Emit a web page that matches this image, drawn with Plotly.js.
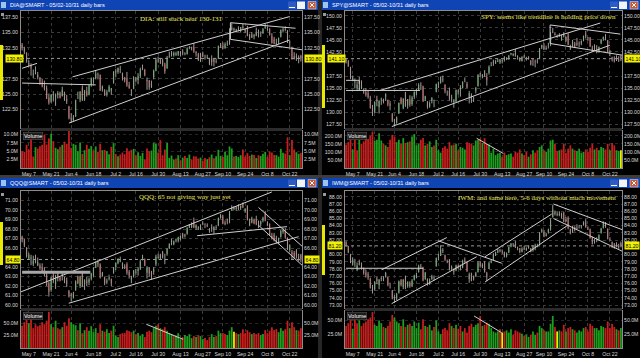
<!DOCTYPE html>
<html><head><meta charset="utf-8">
<script src="https://cdn.plot.ly/plotly-3.0.1.min.js"></script>
<style>html,body{margin:0;padding:0;background:#000;}#chart{width:640px;height:358px;}</style>
</head><body><div id="chart"></div>
<script>
// ---------- categories ----------
const dates = [
'May 2','May 3','May 4','May 7','May 8','May 9','May 10','May 11','May 14','May 15','May 16','May 17','May 18','May 21','May 22','May 23','May 24','May 25','May 29','May 30','May 31',
'Jun 1','Jun 4','Jun 5','Jun 6','Jun 7','Jun 8','Jun 11','Jun 12','Jun 13','Jun 14','Jun 15','Jun 18','Jun 19','Jun 20','Jun 21','Jun 22','Jun 25','Jun 26','Jun 27','Jun 28','Jun 29',
'Jul 2','Jul 3','Jul 5','Jul 6','Jul 9','Jul 10','Jul 11','Jul 12','Jul 13','Jul 16','Jul 17','Jul 18','Jul 19','Jul 20','Jul 23','Jul 24','Jul 25','Jul 26','Jul 27','Jul 30','Jul 31',
'Aug 1','Aug 2','Aug 3','Aug 6','Aug 7','Aug 8','Aug 9','Aug 10','Aug 13','Aug 14','Aug 15','Aug 16','Aug 17','Aug 20','Aug 21','Aug 22','Aug 23','Aug 24','Aug 27','Aug 28','Aug 29','Aug 30','Aug 31',
'Sep 4','Sep 5','Sep 6','Sep 7','Sep 10','Sep 11','Sep 12','Sep 13','Sep 14','Sep 17','Sep 18','Sep 19','Sep 20','Sep 21','Sep 24','Sep 25','Sep 26','Sep 27','Sep 28',
'Oct 1','Oct 2','Oct 3','Oct 4','Oct 5','Oct 8','Oct 9','Oct 10','Oct 11','Oct 12','Oct 15','Oct 16','Oct 17','Oct 18','Oct 19','Oct 22','Oct 23','Oct 24','Oct 25','Oct 26','Oct 31'];
const dateTickLabels = ['May 7','May 21','Jun 4','Jun 18','Jul 2','Jul 16','Jul 30','Aug 13','Aug 27','Sep 10','Sep 24','Oct 8','Oct 22'];

// ---------- DIA ----------
const diaOpen = [
133.0,132.5,131.7,129.8,129.6,128.2,128.6,127.8,127.6,127.0,
126.4,126.0,124.4,123.8,125.0,124.6,124.9,125.2,124.7,125.3,
124.2,123.0,121.2,120.8,121.4,124.5,124.1,126.0,124.1,125.5,
125.0,126.6,127.2,127.6,128.2,128.1,125.8,125.6,125.0,125.4,
125.6,126.8,128.8,128.6,129.0,128.4,127.5,127.6,126.5,125.7,
125.9,127.5,127.3,127.9,129.2,128.9,127.3,127.2,126.2,127.8,
128.8,130.6,130.5,130.5,129.8,129.2,131.0,131.3,131.3,131.4,
131.4,131.9,131.9,131.6,131.5,132.5,132.6,132.7,131.8,131.5,
130.4,131.6,131.0,130.9,130.7,130.2,130.7,130.3,130.8,132.7,
132.9,132.4,133.3,133.3,135.5,135.6,135.2,135.4,135.3,136.0,
135.3,135.7,134.6,134.2,134.6,134.5,135.1,134.8,134.9,135.8,
135.7,135.6,134.5,133.9,133.1,133.4,134.3,135.3,135.5,135.3,
133.4,132.6,131.2,131.2,130.8,131.2];
const diaHigh = [
133.3,132.7,131.8,130.5,130.0,129.0,129.5,128.6,127.8,127.5,
127.2,126.4,125.1,125.0,125.5,125.1,125.5,125.4,126.2,125.4,
124.9,123.1,121.9,121.6,124.1,125.4,125.5,126.4,125.7,126.2,
126.6,127.7,127.7,128.9,128.5,128.2,126.4,125.8,125.7,126.5,
126.0,128.7,129.1,129.3,129.6,128.5,127.8,128.6,127.0,125.8,
127.9,127.8,128.4,129.3,129.8,129.1,127.7,127.3,127.2,129.0,
130.9,131.1,130.8,130.8,130.1,131.2,131.9,132.0,131.9,131.9,
132.0,132.0,132.3,131.8,132.6,132.8,132.7,133.3,132.0,131.7,
131.7,131.9,131.4,131.4,130.9,131.3,130.8,130.8,132.9,133.3,
133.4,133.4,133.7,135.7,136.5,135.8,135.6,136.0,135.9,136.4,
135.6,136.1,134.8,135.1,134.8,135.8,135.5,135.2,135.7,136.4,
136.0,135.7,134.9,134.3,134.0,134.2,135.5,135.8,136.0,135.4,
133.7,132.7,131.8,131.6,131.3,131.4];
const diaLow = [
132.1,131.5,130.1,129.5,128.0,127.6,128.2,127.4,126.5,126.1,
125.6,124.2,123.3,123.6,123.8,123.1,124.3,124.3,124.6,123.9,
123.4,120.9,120.3,120.6,121.3,124.2,123.7,123.9,123.9,124.6,
124.8,126.2,126.7,127.4,127.4,125.5,125.4,124.7,124.6,125.3,
124.9,126.7,127.8,128.3,128.4,127.2,126.9,126.2,125.9,124.7,
125.8,126.9,126.6,127.6,128.9,127.9,125.7,125.7,126.0,127.4,
128.7,130.1,129.9,129.5,128.3,129.1,130.9,131.1,131.1,131.2,
131.2,131.1,131.3,131.3,131.4,132.3,132.1,131.7,131.1,130.4,
130.2,131.0,130.6,130.8,129.7,129.6,129.5,130.0,130.7,132.5,
132.3,132.4,132.8,133.0,135.3,135.1,135.0,135.2,135.0,135.6,
134.9,134.4,133.8,134.1,133.9,134.4,134.2,134.3,134.8,135.6,
135.3,134.5,133.2,133.1,133.0,133.1,134.2,135.0,135.2,133.3,
132.6,130.6,130.6,130.4,130.0,130.3];
const diaClose = [
132.6,131.9,130.3,130.0,129.2,128.3,128.5,128.1,126.9,126.3,
125.9,124.3,123.6,124.9,124.8,125.0,125.2,124.4,125.7,124.1,
123.8,121.1,120.9,121.2,124.0,124.5,125.4,124.0,125.6,124.9,
126.4,127.6,127.3,128.3,128.1,125.6,126.3,124.9,125.3,126.2,
125.9,128.7,128.6,129.3,128.9,127.6,127.3,126.4,125.9,125.6,
127.7,127.2,127.9,129.0,129.3,128.1,127.1,126.1,126.7,128.8,
130.6,130.5,130.0,129.9,128.7,130.9,131.1,131.6,131.7,131.6,
132.0,131.6,131.7,131.5,132.4,132.6,132.5,131.9,131.6,130.5,
131.5,131.1,130.9,131.0,129.9,130.8,130.2,130.4,132.8,133.0,
132.4,133.1,133.2,135.3,135.8,135.4,135.5,135.7,135.9,135.7,
135.5,134.5,134.0,134.7,134.3,135.0,134.7,134.8,135.6,136.0,
135.7,134.6,133.3,133.2,133.3,134.1,135.4,135.5,135.4,133.4,
133.5,130.9,130.7,130.9,131.0,130.8];
const diaVolume = [ // millions
5.0,4.8,6.9,5.5,9.3,3.4,6.2,5.8,6.5,6.9,9.9,7.0,8.8,10.2,8.0,6.0,5.6,6.3,6.9,7.8,7.2,11.0,
6.0,7.2,6.9,5.0,7.6,4.2,5.3,6.9,5.7,6.5,5.2,6.4,4.8,7.2,5.3,5.4,5.0,4.1,6.3,7.4,
4.2,3.5,4.0,4.6,4.1,5.9,5.0,5.4,5.7,3.8,4.7,3.6,4.5,2.6,5.8,5.0,5.2,7.5,7.3,
4.6,8.3,3.8,5.5,7.4,3.0,3.7,2.5,2.8,3.8,
2.3,3.1,3.6,3.0,4.0,2.5,3.5,3.4,2.8,3.1,2.2,3.0,2.6,3.2,4.0,
2.9,3.5,5.4,3.6,3.3,4.8,3.8,6.4,5.8,3.4,3.6,3.3,3.8,5.5,3.4,4.4,3.6,4.0,3.9,
3.0,3.8,3.6,4.2,4.8,3.3,4.9,4.6,3.9,3.8,3.4,5.7,4.5,4.3,9.1,3.8,8.3,5.5,4.7,4.2,4.5];
const diaPriceTicks = [122.5,125,127.5,130,132.5,135,137.5];
const diaVolTicks = [2.5,5,7.5,10];
const diaVolTickText = ['2.5M','5.0M','7.5M','10.0M'];
const diaTrendlines = [[0,126.8,33,126.5],[0,129.2,6.7,130.0],[22.6,127.8,120,137.6],[21,120.3,120,133.8],[93.4,136.6,122.6,135.7],[93.4,133.9,125.5,132.2],[93.4,136.6,93.4,133.9]];
const diaVolTrendlines = [];

// ---------- SPY ----------
const spyOpen = [
141.0,140.6,139.2,136.5,136.4,135.0,136.4,135.0,134.6,134.1,
134.0,133.0,130.9,130.1,132.7,131.0,132.7,132.7,133.2,132.3,
131.8,129.6,128.4,127.8,129.8,132.9,130.8,134.1,131.4,132.6,
131.7,133.2,133.7,134.6,135.6,135.3,132.6,132.2,131.2,132.3,
132.3,134.3,136.2,136.1,136.9,135.7,134.1,134.4,132.9,132.1,
132.2,134.4,134.6,135.0,136.6,135.9,133.2,133.6,133.0,134.5,
135.4,137.8,137.4,138.6,137.3,138.2,139.6,140.2,140.1,140.5,
140.3,140.7,141.5,141.0,141.0,142.0,141.8,142.3,141.5,141.2,
140.6,141.6,141.2,141.1,140.7,140.6,140.6,140.5,141.1,143.4,
143.8,143.1,144.0,144.1,146.6,146.3,145.7,145.8,145.2,146.4,
144.8,146.1,143.8,143.6,144.3,144.3,144.3,144.3,144.9,146.3,
145.3,145.4,143.4,143.8,143.0,142.7,144.3,145.2,145.3,144.9,
142.4,141.3,141.2,141.4,141.0,141.7];
const spyHigh = [
141.2,140.8,139.4,137.6,137.0,136.4,137.3,136.6,134.9,135.0,
134.6,133.4,131.5,132.2,133.4,132.4,133.0,132.8,133.9,132.6,
132.3,129.8,128.6,129.1,132.0,133.1,132.9,134.2,132.7,133.5,
133.4,134.3,134.9,136.0,136.2,135.5,133.4,132.3,132.2,133.1,
132.6,135.9,136.3,137.4,137.6,135.8,134.5,135.1,133.6,132.7,
134.7,134.7,135.6,136.4,137.2,136.3,134.4,133.9,133.2,135.2,
137.9,138.2,137.9,138.7,138.1,139.7,140.4,140.9,140.8,141.1,
141.0,140.9,141.6,141.4,141.8,142.3,142.2,143.1,141.8,141.4,
141.6,141.9,141.5,141.6,140.8,141.2,140.9,141.0,143.3,144.0,
144.3,143.8,144.4,146.6,147.5,146.6,146.1,146.4,146.1,146.6,
145.7,146.4,144.0,145.0,144.6,145.4,144.7,144.9,145.9,146.9,
145.6,145.6,143.8,144.1,143.9,143.6,145.2,145.7,146.2,145.0,
142.9,141.5,141.6,141.8,141.6,141.8];
const spyLow = [
140.1,139.4,136.9,136.4,134.9,134.6,135.9,134.8,133.8,133.2,
132.8,130.7,129.2,129.8,131.2,129.7,131.5,131.8,132.3,131.2,
130.4,127.9,127.1,127.6,129.6,131.6,130.6,131.1,130.7,131.1,
131.3,132.7,133.5,134.6,134.6,132.1,132.3,130.7,130.9,131.8,
131.0,134.1,135.0,135.9,136.2,133.9,133.4,132.4,132.0,130.9,
132.1,133.6,133.2,134.9,136.2,135.0,131.8,131.9,132.1,133.9,
135.3,137.3,137.0,137.3,135.5,137.8,139.5,139.6,140.0,140.4,
140.0,140.1,140.5,140.8,140.9,141.8,141.6,141.5,140.9,140.5,
140.5,141.2,140.7,140.9,139.7,139.6,139.3,140.1,141.0,143.1,
142.9,142.9,143.2,143.7,146.4,145.9,145.4,145.6,144.8,145.5,
144.6,143.9,142.9,143.5,143.3,143.7,143.5,143.9,144.7,145.3,
144.8,143.5,142.6,142.8,142.2,142.3,144.1,144.8,144.9,142.3,
141.6,140.5,140.3,140.6,140.4,140.6];
const spyClose = [
140.6,139.6,137.1,137.2,136.6,135.7,136.0,135.7,134.1,133.6,
133.1,130.9,129.7,132.1,132.2,132.4,132.6,132.1,133.7,131.6,
131.3,128.2,128.1,128.9,131.9,131.8,132.8,131.2,132.7,131.6,
133.0,134.2,134.3,135.6,135.4,132.3,133.3,131.0,131.8,133.0,
132.4,135.9,136.3,137.3,136.7,134.4,134.1,132.9,133.0,132.3,
134.6,134.2,135.2,136.2,136.6,135.1,133.9,132.7,132.8,135.0,
137.7,137.6,137.7,137.6,136.6,139.4,139.7,140.5,140.6,140.7,
141.0,140.9,140.8,141.0,141.8,142.2,142.1,141.7,141.6,140.7,
141.4,141.3,141.1,141.3,139.9,140.6,140.5,140.4,143.3,143.9,
143.0,143.3,143.9,146.1,146.7,146.0,145.9,146.1,146.0,145.7,
145.6,144.0,143.2,144.6,143.6,144.0,144.1,144.7,145.8,145.7,
145.2,143.7,142.8,142.9,142.4,143.6,145.0,145.6,145.2,142.5,
142.6,141.0,140.6,140.9,141.1,141.1];
const spyVolume = [
145,160,195,115,190,110,175,150,165,185,180,200,225,170,175,215,170,150,140,130,175,205,
195,160,175,150,185,155,160,165,195,210,140,150,175,185,140,150,165,130,140,175,
110,95,125,135,120,160,140,145,150,110,130,125,115,160,155,150,140,170,175,
180,155,185,150,145,95,120,80,90,95,
70,95,80,85,90,70,100,95,115,90,80,100,70,85,110,
95,110,130,140,110,100,120,170,175,150,105,110,115,150,95,120,140,120,110,
105,120,95,100,115,100,125,150,115,125,110,130,125,115,150,110,155,140,110,105,110];
const spyPriceTicks = [127.5,130,132.5,135,137.5,140,142.5,145,147.5,150];
const spyVolTicks = [50,100,150,200];
const spyVolTickText = ['50.0M','100.0M','150.0M','200.0M'];
const spyTrendlines = [[0,136.6,6,136.6],[6,136.6,6,134.5],[0,134.5,33.6,134.5],[15.4,134.5,115.6,148.5],[20.8,127.0,120,143.9],[92.8,148.1,124.8,146.2],[92.8,144.25,126,141.8],[92.8,148.1,92.8,144.25]];
const spyVolTrendlines = [[59.4,184,71.5,90]];

// ---------- QQQ ----------
const qqqOpen = [
67.2,66.9,66.0,64.9,64.9,64.3,65.0,64.2,64.2,64.0,
63.7,63.2,62.3,61.6,63.2,62.2,63.4,62.9,63.1,62.8,
62.6,61.5,61.0,60.8,61.6,63.0,62.0,63.5,62.2,62.6,
62.4,62.8,63.1,63.9,64.5,64.3,63.1,62.9,62.4,62.8,
62.7,63.4,64.0,64.4,64.6,64.4,64.1,64.3,63.5,62.7,
63.0,63.5,63.6,63.8,64.9,64.8,63.4,63.9,63.5,63.5,
64.3,65.1,64.9,65.6,64.8,65.4,66.0,66.6,66.4,66.8,
66.8,67.0,67.5,67.3,67.5,68.2,68.2,68.9,68.1,68.2,
68.0,68.6,68.4,68.4,68.0,68.2,67.9,68.2,68.4,69.2,
69.3,68.7,68.9,68.9,70.0,70.1,70.3,70.1,70.2,70.7,
69.9,70.4,68.9,68.7,69.0,69.0,68.7,68.5,68.9,69.6,
68.6,68.5,67.3,67.4,66.9,66.8,67.2,67.7,67.8,67.1,
65.8,65.6,65.5,65.7,65.1,65.3];
const qqqHigh = [
67.3,67.0,66.1,65.5,65.3,65.2,65.3,65.0,64.4,64.4,
64.0,63.4,62.5,63.0,63.5,63.2,63.5,63.0,63.5,63.0,
62.9,61.6,61.3,61.4,62.6,63.1,63.1,63.6,62.7,63.0,
62.9,63.4,64.0,64.6,64.8,64.4,63.5,63.0,62.8,63.2,
62.8,64.0,64.5,64.9,65.1,64.5,64.3,64.5,63.7,63.1,
63.7,63.8,64.0,64.8,65.3,64.9,64.1,64.0,63.6,64.0,
65.3,65.4,65.4,65.7,65.4,66.0,66.5,67.0,66.8,67.0,
67.2,67.3,67.6,67.5,68.2,68.5,68.7,69.2,68.5,68.3,
68.5,68.8,68.6,68.6,68.1,68.5,68.3,68.4,69.2,69.6,
69.5,68.9,69.1,69.9,70.5,70.4,70.4,70.6,70.5,70.8,
70.2,70.5,69.1,69.3,69.1,69.4,68.9,68.9,69.3,69.9,
68.8,68.6,67.6,67.6,67.3,67.1,67.9,68.1,68.1,67.1,
66.4,65.8,65.7,65.9,65.4,65.4];
const qqqLow = [
66.6,66.1,65.0,64.8,64.2,64.1,64.4,64.1,63.7,63.4,
63.0,62.0,60.9,61.4,62.3,61.7,62.5,62.5,62.6,62.3,
61.9,60.8,60.4,60.7,61.5,62.2,61.8,61.9,61.6,62.0,
62.1,62.6,63.0,63.9,64.0,62.8,63.0,62.1,62.2,62.6,
62.0,63.3,63.7,64.3,64.5,63.8,63.8,63.2,62.8,62.3,
62.9,63.2,63.1,63.7,64.7,64.1,62.8,63.0,62.7,63.2,
64.1,64.9,64.8,64.9,64.3,65.2,65.9,66.3,66.3,66.6,
66.6,66.8,67.0,67.1,67.4,68.1,68.1,68.1,67.9,67.9,
67.9,68.4,68.1,68.2,67.6,67.7,67.5,67.9,68.3,69.1,
68.5,68.4,68.5,68.6,69.9,70.0,69.9,70.0,70.0,70.2,
69.7,68.9,68.3,68.6,68.5,68.4,68.1,68.3,68.7,68.8,
68.3,67.3,66.9,66.7,66.5,66.4,67.1,67.5,67.0,65.8,
65.6,64.8,64.9,64.9,64.6,64.5];
const qqqClose = [
66.9,66.3,65.2,65.3,65.0,64.7,64.6,64.5,63.9,63.6,
63.3,62.1,61.4,62.9,62.6,63.1,62.8,62.6,63.3,62.5,
62.2,60.9,61.1,61.2,62.5,62.3,63.0,62.0,62.7,62.3,
62.7,63.3,63.9,64.5,64.3,62.9,63.4,62.3,62.6,62.9,
62.3,64.0,64.4,64.9,64.8,64.1,64.0,63.4,63.1,62.9,
63.6,63.4,63.8,64.6,65.1,64.2,63.9,63.3,63.0,63.8,
65.1,65.0,65.3,65.0,64.7,65.9,66.4,66.8,66.7,66.9,
67.1,67.3,67.2,67.4,68.1,68.5,68.6,68.2,68.4,68.0,
68.3,68.5,68.4,68.3,67.8,68.0,68.2,68.1,69.2,69.4,
68.6,68.5,68.8,69.7,70.2,70.2,70.1,70.5,70.4,70.3,
70.1,69.0,68.4,69.1,68.6,68.5,68.4,68.8,69.2,68.9,
68.4,67.4,67.0,66.8,66.7,67.0,67.8,67.9,67.1,65.9,
66.3,65.3,65.1,65.2,65.0,64.8];
const qqqVolume = [
45,52,73,50,62,40,48,44,46,52,48,55,73,48,42,55,40,38,42,52,45,60,
52,48,46,36,50,30,36,42,35,44,32,40,30,48,35,33,38,30,35,45,
25,22,28,30,30,36,34,32,35,28,30,25,28,22,33,35,32,40,45,
48,40,38,42,35,30,28,24,25,30,
18,22,26,24,28,20,24,22,26,24,18,20,16,22,28,
22,24,35,30,30,28,26,35,42,33,30,28,30,38,30,36,32,28,30,
28,30,26,28,36,30,35,42,36,38,32,40,35,38,55,40,52,42,36,35,40];
const qqqPriceTicks = [60,61,62,63,64,65,66,67,68,69,70,71];
const qqqVolTicks = [25,50];
const qqqVolTickText = ['25.0M','50.0M'];
const qqqTrendlines = [[-0.5,61.4,112,71.9],[20.9,60.2,124,67.2],[78.5,67.3,118.8,68.25],[106,70.27,125.5,66.2],[106,68.4,125.5,64.2]];
const qqqBand = [0,63.46,30.6,63.46];
const qqqVolTrendlines = [[55.7,47.8,72.2,17.5]];

// ---------- IWM ----------
const iwmOpen = [
81.7,81.1,80.0,78.6,79.0,77.9,78.9,78.1,78.0,77.5,
77.3,76.6,75.3,75.2,76.7,75.8,76.6,76.8,76.9,76.9,
75.6,75.0,73.8,73.9,74.7,76.5,75.5,77.0,75.6,76.1,
75.6,76.5,76.8,77.6,78.4,78.2,76.6,76.6,75.9,76.6,
76.9,78.4,79.6,79.8,80.5,79.9,79.1,79.2,78.0,77.9,
77.8,78.4,78.4,78.2,79.2,78.9,76.6,77.3,77.0,77.0,
77.6,78.9,78.3,79.0,77.4,78.0,78.9,79.3,79.9,80.3,
80.6,80.6,80.3,79.8,80.3,81.1,81.3,81.5,80.9,80.9,
80.4,80.9,80.6,80.9,80.9,80.6,80.9,81.3,81.4,83.2,
83.2,82.6,83.1,83.5,85.2,85.9,85.5,85.5,85.6,85.8,
84.6,85.1,83.5,83.1,83.8,83.7,83.8,83.8,84.1,84.6,
83.7,83.5,82.4,81.8,82.0,82.1,83.0,83.7,84.3,83.6,
82.1,81.7,81.4,81.5,81.2,81.6];
const iwmHigh = [
81.9,81.2,80.1,79.6,79.4,78.9,79.3,78.9,78.2,77.9,
77.6,76.8,75.8,76.3,76.9,76.6,77.0,77.0,77.6,76.9,
76.1,75.1,74.4,74.7,76.4,76.6,76.6,77.1,76.3,76.3,
76.6,77.2,77.5,78.6,78.7,78.3,77.6,76.7,76.7,77.2,
77.1,79.6,80.1,81.3,80.9,80.0,79.3,79.4,78.5,78.1,
78.6,78.6,78.6,79.3,79.6,79.0,77.5,77.5,77.1,77.6,
79.1,79.1,78.8,79.1,77.6,79.0,79.3,80.2,80.4,80.8,
80.8,80.7,80.4,80.3,81.1,81.6,81.6,81.9,81.1,80.9,
81.0,81.2,81.0,81.3,80.9,81.3,81.5,81.5,83.1,83.6,
83.4,83.0,83.6,85.0,86.9,86.1,85.9,86.0,85.8,85.9,
85.2,85.3,83.6,84.0,83.9,84.2,84.1,84.1,84.6,84.9,
83.9,83.6,82.5,82.2,82.4,82.8,83.7,84.6,84.5,83.6,
82.4,81.8,81.6,81.7,81.5,81.8];
const iwmLow = [
81.1,80.2,78.8,78.5,78.3,77.7,78.5,77.9,77.2,76.8,
76.5,75.3,74.6,75.0,75.9,75.2,76.3,76.3,76.8,75.6,
75.3,73.8,73.3,73.7,74.6,75.6,75.2,75.2,75.4,75.4,
75.5,76.4,76.7,77.5,78.0,76.3,76.5,75.7,75.8,76.5,
76.4,78.3,79.2,79.8,80.2,79.1,78.8,77.8,77.8,77.2,
77.7,78.0,77.8,78.1,78.8,77.6,76.1,76.3,76.4,76.9,
77.5,78.2,78.1,77.5,76.3,78.0,78.8,79.2,79.8,80.2,
80.3,80.1,79.6,79.6,80.2,81.0,81.1,80.9,80.6,80.2,
80.3,80.6,80.5,80.8,80.3,80.4,80.6,81.0,81.3,83.0,
82.4,82.5,82.9,83.3,85.1,85.4,85.3,85.3,85.0,84.5,
84.5,83.5,82.8,83.0,83.2,83.5,83.6,83.6,84.0,83.7,
83.4,82.2,81.4,81.5,81.7,82.0,82.9,83.6,83.7,82.1,
81.9,80.9,80.8,81.0,80.8,81.0];
const iwmClose = [
81.3,80.3,79.0,79.3,78.9,78.5,78.6,78.4,77.4,77.1,
76.8,75.4,75.0,76.2,76.3,76.5,76.7,76.5,77.4,75.8,
75.6,73.9,74.1,74.5,76.3,75.8,76.5,75.3,76.2,75.6,
76.4,77.1,77.2,78.4,78.3,76.4,77.5,75.8,76.5,77.0,
76.8,79.5,79.6,80.7,80.6,79.3,79.0,78.0,78.3,77.6,
78.5,78.3,78.2,79.1,79.0,77.7,77.2,76.4,76.6,77.4,
78.9,78.4,78.6,77.6,76.9,78.8,79.0,80.0,80.3,80.6,
80.5,80.5,79.7,80.2,81.0,81.5,81.3,81.0,80.9,80.4,
80.8,80.7,80.9,81.1,80.4,81.1,81.3,81.2,83.0,83.4,
82.5,82.8,83.4,84.7,86.2,85.6,85.6,85.7,85.2,84.6,
84.9,83.6,82.9,83.8,83.4,83.6,83.8,83.9,84.5,83.8,
83.6,82.3,81.5,81.9,82.0,82.7,83.6,84.4,83.8,82.2,
82.0,81.1,81.0,81.3,81.0,81.2];
const iwmVolume = [
40,45,58,35,55,45,50,40,45,48,52,55,65,42,40,50,45,38,36,40,48,60,
55,48,45,40,52,38,42,44,40,48,36,46,34,52,40,38,42,32,38,50,
30,25,34,36,32,45,40,36,42,35,40,30,36,28,40,44,38,42,45,
58,40,42,46,44,36,30,28,30,34,
28,30,32,28,34,24,32,30,28,26,22,24,20,24,30,
24,28,40,36,32,30,30,44,58,38,30,32,30,42,30,36,38,34,32,
28,32,30,36,38,30,44,40,36,36,32,40,38,36,48,36,44,38,34,32,36];
const iwmPriceTicks = [73,74,75,76,77,78,79,80,81,82,83,84,85,86,87,88];
const iwmVolTicks = [25,50];
const iwmVolTickText = ['25.0M','50.0M'];
const iwmTrendlines = [[0,78.1,35.1,78.1],[16.2,77.9,45.8,82.35],[20.7,73.2,59.4,79.7],[42,81.9,70.8,78.8],[63.2,79.7,93.5,85.6],[63.2,76.2,101,84.1],[94.3,87.0,126,83.4],[94.3,85.0,126,80.4]];
const iwmVolTrendlines = [[58.2,58,70.8,27.5]];

// ---------- layout helpers ----------
const FW = 640, FH = 358;
const pxX = v => v / FW, pxY = v => 1 - v / FH;
const ROWS = [{bar:[0,10], price:[11,128], vol:[131,168]}, {bar:[178,188], price:[191,308], vol:[311,348]}];
const COLS = [{x0:0, x1:318, plot:[21,302]}, {x0:322, x1:640, plot:[345,622]}];

const panels = [
 {title:'DIA@SMART - 05/02-10/31 daily bars', note:'DIA: still stuck near 130-131', noteX:181, noteY:19,
  o:diaOpen,h:diaHigh,l:diaLow,c:diaClose,v:diaVolume, pr:[119.5,138.5], pt:diaPriceTicks, vr:[0,11], vt:diaVolTicks, vtt:diaVolTickText,
  lines:diaTrendlines, vlines:diaVolTrendlines, strip:[45,100]},
 {title:'SPY@SMART - 05/02-10/31 daily bars', note:'SPY: seems like trendline is holding price down', noteX:548, noteY:17,
  o:spyOpen,h:spyHigh,l:spyLow,c:spyClose,v:spyVolume, pr:[126.7,151.0], pt:spyPriceTicks, vr:[0,229], vt:spyVolTicks, vtt:spyVolTickText,
  lines:spyTrendlines, vlines:spyVolTrendlines, strip:[45,108]},
 {title:'QQQ@SMART - 05/02-10/31 daily bars', note:'QQQ: 65 not giving way just yet', noteX:185, noteY:197,
  o:qqqOpen,h:qqqHigh,l:qqqLow,c:qqqClose,v:qqqVolume, pr:[59.7,72.0], pt:qqqPriceTicks, vr:[0,74.6], vt:qqqVolTicks, vtt:qqqVolTickText,
  lines:qqqTrendlines, vlines:qqqVolTrendlines, band:qqqBand, strip:[222,265]},
 {title:'IWM@SMART - 05/02-10/31 daily bars', note:'IWM: and same here, 5-6 days without much movement', noteX:537, noteY:198,
  o:iwmOpen,h:iwmHigh,l:iwmLow,c:iwmClose,v:iwmVolume, pr:[72.6,88.8], pt:iwmPriceTicks, vr:[0,67], vt:iwmVolTicks, vtt:iwmVolTickText,
  lines:iwmTrendlines, vlines:iwmVolTrendlines, strip:[225,275]}
];

const GREEN = '#25b025', RED = '#d82222', VGREEN = '#1f9f1f', VRED = '#c81e1e', YEL = '#f2f200';
const FONT = 'Liberation Sans, Arial, sans-serif';
const TICKFONT = {family:FONT, size:5.2, color:'#d8d8d8'};
const GRID = '#3a3a3a';

const traces = [];
const layout = {
  width:FW, height:FH, margin:{l:0,r:0,t:0,b:0}, paper_bgcolor:'#000', plot_bgcolor:'#000',
  showlegend:false, bargap:0.2, boxgap:0.25, hovermode:false, shapes:[], annotations:[]
};
const S = layout.shapes, A = layout.annotations;

// frame separators
S.push({type:'rect', xref:'paper', yref:'paper', x0:pxX(318), x1:pxX(322), y0:0, y1:1, fillcolor:'#262626', line:{width:0}, layer:'below'});
S.push({type:'rect', xref:'paper', yref:'paper', x0:0, x1:1, y0:pxY(178), y1:pxY(175), fillcolor:'#3c3c3c', line:{width:0}, layer:'below'});

panels.forEach((p, i) => {
  const row = ROWS[Math.floor(i/2)], col = COLS[i%2];
  const xa = 2*i+1, xv = 2*i+2, ya = 4*i+1, yar = 4*i+2, yv = 4*i+3, yvr = 4*i+4;
  const xs = n => n===1 ? 'x' : 'x'+n, ys = n => n===1 ? 'y' : 'y'+n;
  const xk = n => n===1 ? 'xaxis' : 'xaxis'+n, yk = n => n===1 ? 'yaxis' : 'yaxis'+n;
  const dom = [pxX(col.plot[0]), pxX(col.plot[1])];
  const last = p.c[p.c.length-1];
  // ticks hidden behind the price tag are not drawn (as in the reference)
  const pxPerUnit = (row.price[1]-row.price[0]) / (p.pr[1]-p.pr[0]);
  const shownTicks = p.pt.filter(t => Math.abs(t-last)*pxPerUnit > 5.5);

  traces.push({type:'ohlc', x:dates, open:p.o, high:p.h, low:p.l, close:p.c, xaxis:xs(xa), yaxis:ys(ya), tickwidth:0,
    increasing:{line:{color:'#9a9a9a', width:1}}, decreasing:{line:{color:'#9a9a9a', width:1}}, hoverinfo:'skip'});
  traces.push({type:'candlestick', x:dates, open:p.o, high:p.h, low:p.l, close:p.c, xaxis:xs(xa), yaxis:ys(ya), whiskerwidth:0,
    increasing:{line:{color:GREEN, width:0}, fillcolor:GREEN}, decreasing:{line:{color:RED, width:0}, fillcolor:RED}, hoverinfo:'skip'});
  traces.push({type:'scatter', mode:'lines', x:dates, y:p.c, xaxis:xs(xa), yaxis:ys(yar), line:{width:0}, opacity:0, hoverinfo:'skip'});
  const vcol = p.c.map((c, k) => {
    const prev = k===0 ? p.o[0] : p.c[k-1];
    return c > prev ? VGREEN : (c < prev ? VRED : YEL);
  });
  traces.push({type:'bar', x:dates, y:p.v, xaxis:xs(xv), yaxis:ys(yv), marker:{color:vcol, line:{width:0}}, hoverinfo:'skip'});
  traces.push({type:'scatter', mode:'lines', x:dates, y:p.v, xaxis:xs(xv), yaxis:ys(yvr), line:{width:0}, opacity:0, hoverinfo:'skip'});

  const xBase = {type:'category', range:[-0.5, dates.length-0.5], domain:dom, tickmode:'array', tickvals:dateTickLabels, ticktext:dateTickLabels,
    showgrid:true, gridcolor:GRID, griddash:'dot', gridwidth:1, showline:true, mirror:true, linecolor:'#8c8c8c', linewidth:1,
    ticks:'', zeroline:false, rangeslider:{visible:false}, fixedrange:true, tickfont:TICKFONT};
  layout[xk(xa)] = Object.assign({}, xBase, {anchor:ys(ya), showticklabels:false});
  layout[xk(xv)] = Object.assign({}, xBase, {anchor:ys(yv), showticklabels:true, ticklabelstandoff:1});

  const yBase = {showline:true, mirror:true, linecolor:'#8c8c8c', linewidth:1, ticks:'', zeroline:false, tickfont:TICKFONT, fixedrange:true, ticklabelstandoff:1};
  layout[yk(ya)] = Object.assign({}, yBase, {domain:[pxY(row.price[1]), pxY(row.price[0])], anchor:xs(xa), range:p.pr, tickmode:'array', tickvals:shownTicks,
    tickformat:'.2f', side:'left', showgrid:true, gridcolor:GRID, griddash:'dot'});
  layout[yk(yar)] = Object.assign({}, yBase, {overlaying:ys(ya), anchor:xs(xa), side:'right', range:p.pr, tickmode:'array', tickvals:shownTicks,
    tickformat:'.2f', showgrid:false, showline:false});
  layout[yk(yv)] = Object.assign({}, yBase, {domain:[pxY(row.vol[1]), pxY(row.vol[0])], anchor:xs(xv), range:p.vr, tickmode:'array', tickvals:p.vt,
    ticktext:p.vtt, side:'left', showgrid:true, gridcolor:'#262626', griddash:'dot'});
  layout[yk(yvr)] = Object.assign({}, yBase, {overlaying:ys(yv), anchor:xs(xv), side:'right', range:p.vr, tickmode:'array', tickvals:p.vt,
    ticktext:p.vtt, showgrid:false, showline:false});

  // title bar + window buttons
  const bmid = (row.bar[0]+row.bar[1])/2;
  S.push({type:'rect', xref:'paper', yref:'paper', x0:pxX(col.x0), x1:pxX(col.x1), y0:pxY(row.bar[1]), y1:pxY(row.bar[0]), fillcolor:'#0f44b4', line:{width:0}});
  S.push({type:'rect', xref:'paper', yref:'paper', x0:pxX(col.x0+1), x1:pxX(col.x0+6), y0:pxY(row.bar[1]-2), y1:pxY(row.bar[0]+2), fillcolor:'#9ec4ee', line:{width:0}});
  S.push({type:'rect', xref:'paper', yref:'paper', x0:pxX(col.x1-30), x1:pxX(col.x1-22), y0:pxY(row.bar[1]-1), y1:pxY(row.bar[0]+1.5), fillcolor:'#2d5cc4', line:{width:0}});
  S.push({type:'line', xref:'paper', yref:'paper', x0:pxX(col.x1-29), x1:pxX(col.x1-23), y0:pxY(row.bar[1]-2.5), y1:pxY(row.bar[1]-2.5), line:{color:'#ffffff', width:1}});
  S.push({type:'rect', xref:'paper', yref:'paper', x0:pxX(col.x1-21), x1:pxX(col.x1-13), y0:pxY(row.bar[1]-1), y1:pxY(row.bar[0]+1.5), fillcolor:'#f4f4f4', line:{width:0}});
  S.push({type:'rect', xref:'paper', yref:'paper', x0:pxX(col.x1-10), x1:pxX(col.x1-2), y0:pxY(row.bar[1]-1), y1:pxY(row.bar[0]+1.5), fillcolor:'#c45a3c', line:{color:'#e8e8e8', width:0.5}});
  S.push({type:'line', xref:'paper', yref:'paper', x0:pxX(col.x1-8), x1:pxX(col.x1-4), y0:pxY(bmid-2), y1:pxY(bmid+2), line:{color:'#ffffff', width:1}});
  S.push({type:'line', xref:'paper', yref:'paper', x0:pxX(col.x1-8), x1:pxX(col.x1-4), y0:pxY(bmid+2), y1:pxY(bmid-2), line:{color:'#ffffff', width:1}});
  A.push({xref:'paper', yref:'paper', x:pxX(col.x0+8), y:pxY(bmid), xanchor:'left', yanchor:'middle', text:p.title, showarrow:false,
    font:{family:FONT, size:5.6, color:'#ffffff'}});

  // left column strip
  S.push({type:'rect', xref:'paper', yref:'paper', x0:pxX(col.x0), x1:pxX(col.x0+3), y0:pxY(p.strip[1]), y1:pxY(p.strip[0]), fillcolor:'#e8e800', line:{width:0}});
  S.push({type:'rect', xref:'paper', yref:'paper', x0:pxX(col.x0+1), x1:pxX(col.x0+4), y0:pxY(row.price[0]+5), y1:pxY(row.price[0]+2), fillcolor:'#9a9a9a', line:{width:0}});
  S.push({type:'rect', xref:'paper', yref:'paper', x0:dom[0], x1:dom[1], y0:pxY(row.vol[0]), y1:pxY(row.price[1]), fillcolor:'#2c2c2c', line:{width:0}});

  // trend lines
  p.lines.forEach(t => S.push({type:'line', xref:xs(xa), yref:ys(ya), x0:t[0], y0:t[1], x1:t[2], y1:t[3], line:{color:'#cfcfcf', width:1}}));
  if (p.band) { const t = p.band; S.push({type:'line', xref:xs(xa), yref:ys(ya), x0:t[0], y0:t[1], x1:t[2], y1:t[3], line:{color:'#a8a8a8', width:3}}); }
  p.vlines.forEach(t => S.push({type:'line', xref:xs(xv), yref:ys(yv), x0:t[0], y0:t[1], x1:t[2], y1:t[3], line:{color:'#cfcfcf', width:1}}));

  // last price dashed line + tags
  S.push({type:'line', xref:'paper', yref:ys(ya), x0:dom[0], x1:dom[1], y0:last, y1:last, line:{color:'#9a9a9a', width:1, dash:'dot'}});
  const tagFont = {family:FONT, size:5.2, color:'#000'};
  A.push({xref:'paper', yref:ys(ya), x:pxX(col.x0+5), y:last, xanchor:'left', yanchor:'middle', text:last.toFixed(2), showarrow:false,
    bgcolor:YEL, borderpad:0.5, font:tagFont});
  A.push({xref:'paper', yref:ys(ya), x:pxX(col.plot[1]+2), y:last, xanchor:'left', yanchor:'middle', text:last.toFixed(2), showarrow:false,
    bgcolor:YEL, borderpad:0.5, font:tagFont});

  // volume label
  A.push({xref:'paper', yref:'paper', x:pxX(col.plot[0]+2), y:pxY(row.vol[0]+1), xanchor:'left', yanchor:'top', text:'Volume', showarrow:false,
    bgcolor:'#1c1c1c', bordercolor:'#5a5a5a', borderwidth:0.5, borderpad:0.5, font:{family:FONT, size:5.5, color:'#ffffff'}});
  // note
  A.push({xref:'paper', yref:'paper', x:pxX(p.noteX), y:pxY(p.noteY), xanchor:'center', yanchor:'middle', text:p.note, showarrow:false,
    font:{family:'Liberation Serif, Times New Roman, serif', size:7, color:'#ecec5c'}});
});

Plotly.newPlot('chart', traces, layout, {staticPlot:true, displayModeBar:false});
</script>
</body></html>
